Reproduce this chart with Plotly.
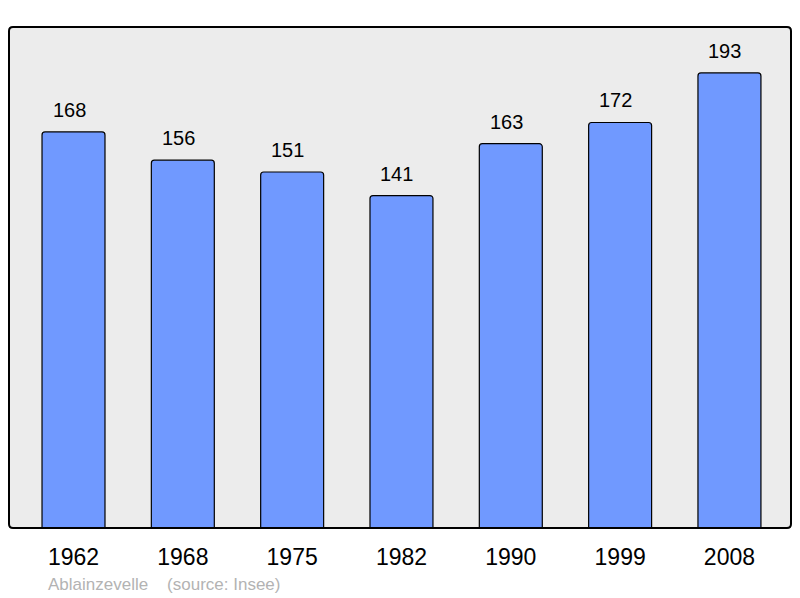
import plotly.graph_objects as go

years = ["1962", "1968", "1975", "1982", "1990", "1999", "2008"]
population = [168, 156, 151, 141, 163, 172, 193]
caption = "Ablainzevelle &nbsp;&nbsp;&nbsp;(source: Insee)"

xs = list(range(len(years)))

PW, PH = 782, 501  # plot area size in px

fig = go.Figure()
fig.add_trace(go.Bar(
    x=xs, y=population, width=0.576,
    marker=dict(color="#7099ff", line=dict(color="#000000", width=1.2), cornerradius=3),
    hoverinfo="skip",
))

for x, v in zip(xs, population):
    fig.add_annotation(x=x, y=v, text=str(v), showarrow=False, yanchor="bottom",
                       yshift=9, xshift=-4.5,
                       font=dict(size=20, color="#000000", family="Liberation Sans, Arial"))

fig.add_annotation(xref="paper", yref="paper", x=(46 - 9) / PW, y=-(584 - 528) / PH,
                   xanchor="left", yanchor="middle", text=caption, showarrow=False,
                   font=dict(size=17, color="#b3b3b3", family="Liberation Sans, Arial"))

# rounded border
rx, ry = 4 / PW, 4 / PH
path = (f"M {rx},0 L {1-rx},0 Q 1,0 1,{ry} L 1,{1-ry} Q 1,1 {1-rx},1 "
        f"L {rx},1 Q 0,1 0,{1-ry} L 0,{ry} Q 0,0 {rx},0 Z")
fig.add_shape(type="path", xref="paper", yref="paper", path=path,
              line=dict(color="#000000", width=2), layer="above")

fig.update_layout(
    width=792, height=590,
    margin=dict(l=1, r=9, t=19, b=70),
    paper_bgcolor="#ffffff", plot_bgcolor="#ececec",
    showlegend=False,
    xaxis=dict(range=[-0.59, 6.563], tickvals=xs, ticktext=years, showgrid=False,
               zeroline=False, showline=False, ticks="", ticklabelstandoff=13,
               tickfont=dict(size=23, color="#000000", family="Liberation Sans, Arial"),
               fixedrange=True),
    yaxis=dict(range=[0, 212.5], showticklabels=False, showgrid=False, zeroline=False,
               showline=False, ticks="", fixedrange=True),
)

fig.write_html("out.html")
